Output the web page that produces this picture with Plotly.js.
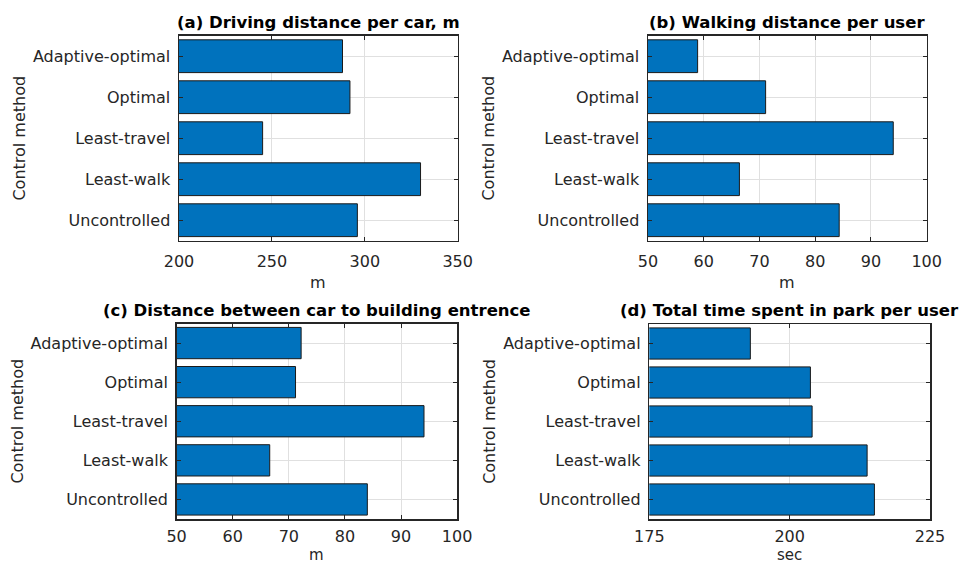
<!DOCTYPE html>
<html>
<head>
<meta charset="utf-8">
<script src="https://cdn.plot.ly/plotly-3.0.1.min.js"></script>
<style>
  html, body { margin: 0; padding: 0; background: #fff; }
  #chart { width: 960px; height: 565px; }
</style>
</head>
<body>
<div id="chart"></div>
<script>
// Control methods, listed bottom to top
const methods = ['Uncontrolled', 'Least-walk', 'Least-travel', 'Optimal', 'Adaptive-optimal'];

// (a) Driving distance per car, m
const drivingDistance = [296, 330, 245, 292, 288];
// (b) Walking distance per user, m
const walkingDistance = [84.3, 66.4, 94.0, 71.1, 58.9];
// (c) Distance between car and building entrance, m
const carToEntrance = [84.0, 66.6, 94.1, 71.2, 72.2];
// (d) Total time spent in park per user, sec
const timeInPark = [215.1, 213.8, 204.0, 203.7, 193.0];

const panelTitles = [
  '(a) Driving distance per car, m',
  '(b) Walking distance per user',
  '(c) Distance between car to building entrence',
  '(d) Total time spent in park per user'
];
const xTitles = ['m', 'm', 'm', 'sec'];
const xRanges = [[200, 350], [50, 100], [50, 100], [175, 225]];
const xSteps = [50, 10, 10, 25];
const series = [drivingDistance, walkingDistance, carToEntrance, timeInPark];

const W = 960, H = 565;
// panel boxes in pixels: [left, right, top, bottom]
const boxes = [
  [179, 457.7, 35.7, 240.7],
  [648, 926.7, 35.7, 240.7],
  [176.6, 457.1, 323.5, 519],
  [649.3, 930, 324, 519]
];
// bottom edge (px from top) of each x-axis title box
const xTitleBottom = [293, 293, 565, 565];
const xTitleSize = [16, 16, 15, 15];
// gap between axis line and x tick labels
const xLabelGap = [6, 6, 2, 2];

const ink = '#262626';
const traces = [];
const layout = {
  width: W, height: H,
  margin: {l: 0, r: 0, t: 0, b: 0},
  paper_bgcolor: '#fff',
  plot_bgcolor: '#fff',
  showlegend: false,
  font: {family: 'DejaVu Sans', size: 16, color: ink},
  bargap: 0.2,
  annotations: []
};

series.forEach((vals, i) => {
  const n = i + 1;
  const xa = n === 1 ? 'x' : 'x' + n;
  const ya = n === 1 ? 'y' : 'y' + n;
  traces.push({
    type: 'bar',
    orientation: 'h',
    x: vals,
    y: methods,
    xaxis: xa, yaxis: ya,
    width: 0.8,
    marker: {color: '#0072BD', line: {color: '#1a1a1a', width: 1}},
    hoverinfo: 'x+y'
  });
  const [l, r, t, b] = boxes[i];
  const common = {
    showline: true, linecolor: ink, linewidth: 1.5, mirror: 'ticks',
    ticks: 'inside', ticklen: 4, tickcolor: ink, tickwidth: 1,
    showgrid: true, gridcolor: '#e0e0e0', gridwidth: 1,
    zeroline: false, tickfont: {size: 16, color: ink}
  };
  layout['xaxis' + (n === 1 ? '' : n)] = Object.assign({}, common, {
    domain: [l / W, r / W],
    anchor: ya,
    range: xRanges[i],
    dtick: xSteps[i],
    tick0: xRanges[i][0],
    ticklabelstandoff: xLabelGap[i]
  });
  layout['yaxis' + (n === 1 ? '' : n)] = Object.assign({}, common, {
    domain: [1 - b / H, 1 - t / H],
    anchor: xa,
    type: 'category',
    categoryorder: 'array',
    categoryarray: methods,
    range: [-0.5, 4.5],
    ticklabelstandoff: 4,
    title: {text: 'Control method', font: {size: 16, color: ink}, standoff: 3}
  });
  // panel title
  layout.annotations.push({
    xref: 'paper', yref: 'paper',
    x: (l + r) / 2 / W, y: 1 - (t - 2) / H,
    xanchor: 'center', yanchor: 'bottom',
    text: '<b>' + panelTitles[i] + '</b>',
    showarrow: false,
    font: {family: 'DejaVu Sans', size: 16.5, color: '#000'}
  });
  // x-axis title
  layout.annotations.push({
    xref: 'paper', yref: 'paper',
    x: (l + r) / 2 / W, y: 1 - xTitleBottom[i] / H,
    xanchor: 'center', yanchor: 'bottom',
    borderpad: 0,
    text: xTitles[i],
    showarrow: false,
    font: {family: 'DejaVu Sans', size: xTitleSize[i], color: ink}
  });
});

Plotly.newPlot('chart', traces, layout, {staticPlot: true, displayModeBar: false});
</script>
</body>
</html>
